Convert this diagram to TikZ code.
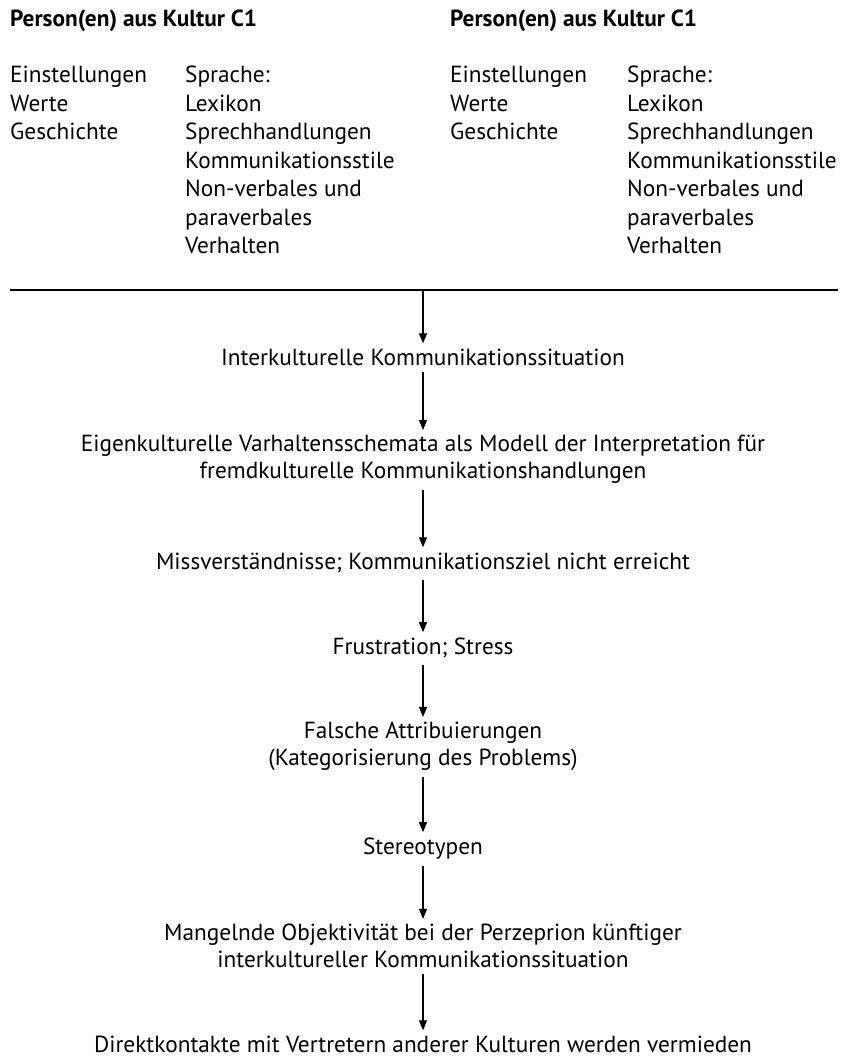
\documentclass[tikz,border=0pt]{standalone}
\usepackage{fontspec}
\setmainfont{PT Sans}[BoldFont={PT Sans Bold}]
\usetikzlibrary{arrows.meta}

\begin{document}
\begin{tikzpicture}[
  x=1pt, y=-1pt,
  culture/.style={anchor=base west, inner sep=0pt, font=\fontsize{23.3}{26}\selectfont\bfseries},
  column/.style={anchor=base west, inner sep=0pt, align=left, font=\fontsize{23.3}{28.5}\selectfont},
  stage/.style={anchor=base, inner sep=0pt, align=center, font=\fontsize{23.3}{26.3}\selectfont},
  arrow/.style={-{Triangle[length=10pt,width=8pt]}, line width=1.1pt, shorten <=7pt, shorten >=5pt}
]
\useasboundingbox (0,0) rectangle (841,1059);

% === Culture C1 (left) ===
\node[culture] (cultA) at (10,27) {Person(en) aus Kultur C1};
\node[column] (valuesA) at (10,140) {Einstellungen\\Werte\\Geschichte};
\node[column] (langA) at (185,254) {Sprache:\\Lexikon\\Sprechhandlungen\\Kommunikationsstile\\Non-verbales und\\paraverbales\\Verhalten};

% === Culture C1 (right) ===
\node[culture] (cultB) at (450,27) {Person(en) aus Kultur C1};
\node[column] (valuesB) at (450,140) {Einstellungen\\Werte\\Geschichte};
\node[column] (langB) at (627,254) {Sprache:\\Lexikon\\Sprechhandlungen\\Kommunikationsstile\\Non-verbales und\\paraverbales\\Verhalten};

% === Separator ===
\coordinate (sepL) at (10,290);
\coordinate (sepR) at (838,290);
\coordinate (sepM) at (423,290);
\draw[line width=1.2pt] (sepL) -- (sepR);

% === Chain of consequences ===
\node[stage] (situation) at (423,365) {Interkulturelle Kommunikationssituation};
\node[stage] (schema) at (423,478) {Eigenkulturelle Varhaltensschemata als Modell der Interpretation für\\fremdkulturelle Kommunikationshandlungen};
\node[stage] (missund) at (423,569) {Missverständnisse; Kommunikationsziel nicht erreicht};
\node[stage] (frust) at (423,654) {Frustration; Stress};
\node[stage] (attrib) at (423,765) {Falsche Attribuierungen\\(Kategorisierung des Problems)};
\node[stage] (stereo) at (423,854) {Stereotypen};
\node[stage] (perzep) at (423,967) {Mangelnde Objektivität bei der Perzeprion künftiger\\interkultureller Kommunikationssituation};
\node[stage] (avoid) at (423,1052) {Direktkontakte mit Vertretern anderer Kulturen werden vermieden};

% === Arrows ===
\draw[arrow, shorten <=0pt] (sepM) -- (situation);
\draw[arrow] (situation) -- (schema);
\draw[arrow] (schema) -- (missund);
\draw[arrow] (missund) -- (frust);
\draw[arrow] (frust) -- (attrib);
\draw[arrow] (attrib) -- (stereo);
\draw[arrow] (stereo) -- (perzep);
\draw[arrow] (perzep) -- (avoid);

\end{tikzpicture}
\end{document}
